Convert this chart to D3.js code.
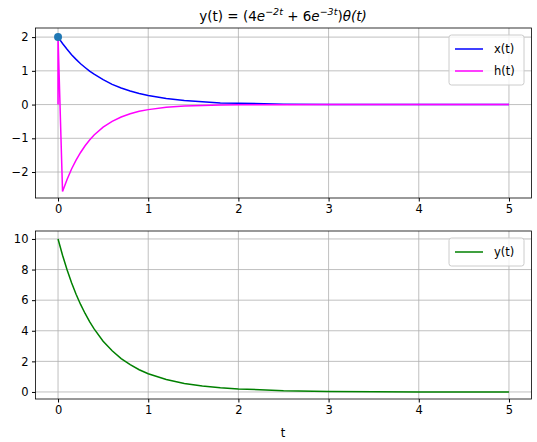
<!DOCTYPE html>
<html><head><meta charset="utf-8">
<script src="https://cdn.jsdelivr.net/npm/d3@7"></script>
<style>body{margin:0;background:#fff}svg{font-family:"DejaVu Sans",sans-serif}</style>
</head><body><svg id="c" width="537" height="442"></svg>
<script>
// sample times and values
const tX = [0,0.05,0.1,0.15,0.2,0.25,0.3,0.35,0.4,0.5,0.6,0.7,0.8,0.9,1,1.2,1.4,1.6,1.8,2,2.5,3,3.5,4,4.5,5]
const xVals = [2,1.81,1.64,1.48,1.34,1.21,1.10,0.99,0.90,0.74,0.60,0.49,0.40,0.33,0.27,0.18,0.12,0.08,0.05,0.04,0.01,0.005,0,0,0,0]
const tH = [0,0,0.05,0.1,0.15,0.2,0.25,0.3,0.35,0.4,0.5,0.6,0.7,0.8,0.9,1,1.2,1.4,1.6,1.8,2,2.5,3,3.5,4,4.5,5]
const hVals = [0,2,-2.58,-2.22,-1.91,-1.65,-1.42,-1.22,-1.05,-0.90,-0.67,-0.50,-0.37,-0.27,-0.20,-0.15,-0.08,-0.045,-0.025,-0.014,-0.007,-0.002,0,0,0,0,0]
const yVals = [10,8.94,7.99,7.14,6.39,5.72,5.13,4.59,4.12,3.32,2.69,2.18,1.78,1.45,1.19,0.81,0.56,0.39,0.28,0.20,0.08,0.03,0.01,0,0,0]
const tTicks = [0,1,2,3,4,5]
const topTicks = [-2,-1,0,1,2]
const botTicks = [0,2,4,6,8,10]

const svg = d3.select('#c')
const left = 35.5, right = 531.5
const x = d3.scaleLinear().domain([-0.2, 5.25]).range([40, right])

function panel (top, bottom, dom, ticks) {
  let y = d3.scaleLinear().domain(dom).range([bottom, top])
  let g = svg.append('g')
  g.selectAll('.gx').data(tTicks).enter().append('line')
    .attr('x1', d => x(d)).attr('x2', d => x(d)).attr('y1', top).attr('y2', bottom)
    .attr('stroke', '#b0b0b0').attr('stroke-width', 0.8)
  g.selectAll('.gy').data(ticks).enter().append('line')
    .attr('x1', left).attr('x2', right).attr('y1', d => y(d)).attr('y2', d => y(d))
    .attr('stroke', '#b0b0b0').attr('stroke-width', 0.8)
  g.append('g').attr('transform', `translate(0,${bottom})`)
    .call(d3.axisBottom(x).tickValues(tTicks).tickSize(3.5).tickPadding(3.5).tickFormat(d3.format('d')))
  g.append('g').attr('transform', `translate(${left},0)`)
    .call(d3.axisLeft(y).tickValues(ticks).tickSize(3.5).tickPadding(3.5).tickFormat(d => d < 0 ? '\u2212' + (-d) : d))
  g.selectAll('.tick text').attr('font-size', 11.5).attr('fill', '#000').attr('font-family', 'DejaVu Sans')
  g.selectAll('.domain').remove()
  g.append('rect').attr('x', left).attr('y', top).attr('width', right - left).attr('height', bottom - top)
    .attr('fill', 'none').attr('stroke', '#000').attr('stroke-width', 0.8)
  return y
}

function curve (y, ts, vs, color) {
  let line = d3.line().x((d, i) => x(ts[i])).y(d => y(d))
  svg.append('path').datum(vs).attr('d', line).attr('fill', 'none')
    .attr('stroke', color).attr('stroke-width', 1.5)
}

function legend (top, items) {
  let g = svg.append('g')
  g.append('rect').attr('x', 449).attr('y', top).attr('width', 75).attr('height', 6 + 22 * items.length)
    .attr('rx', 2.5).attr('fill', '#fff').attr('fill-opacity', 0.8).attr('stroke', '#ccc')
  items.forEach((it, i) => {
    let yy = top + 14 + 22 * i
    g.append('line').attr('x1', 455).attr('x2', 483).attr('y1', yy).attr('y2', yy)
      .attr('stroke', it[1]).attr('stroke-width', 1.5)
    g.append('text').attr('x', 494).attr('y', yy + 4).attr('font-size', 11.5).text(it[0])
  })
}

const y1 = panel(28, 198, [-2.77, 2.27], topTicks)
curve(y1, tX, xVals, 'blue')
curve(y1, tH, hVals, 'magenta')
svg.append('circle').attr('cx', x(tX[0])).attr('cy', y1(xVals[0])).attr('r', 4).attr('fill', '#1f77b4')
legend(35, [['x(t)', 'blue'], ['h(t)', 'magenta']])

const y2 = panel(231, 399, [-0.46, 10.52], botTicks)
curve(y2, tX, yVals, 'green')
legend(238, [['y(t)', 'green']])

svg.append('text').attr('x', 283).attr('y', 437).attr('text-anchor', 'middle').attr('font-size', 11.5).text('t')

const title = svg.append('text').attr('x', 283).attr('y', 21).attr('text-anchor', 'middle').attr('font-size', 13.5)
title.append('tspan').text('y(t) = (4')
title.append('tspan').attr('font-style', 'italic').text('e')
title.append('tspan').attr('dy', -6).attr('font-size', 9.5).attr('font-style', 'italic').text('\u22122t')
title.append('tspan').attr('dy', 6).text(' + 6')
title.append('tspan').attr('font-style', 'italic').text('e')
title.append('tspan').attr('dy', -6).attr('font-size', 9.5).attr('font-style', 'italic').text('\u22123t')
title.append('tspan').attr('dy', 6).text(')')
title.append('tspan').attr('font-style', 'italic').text('\u03b8(t)')
</script></body></html>
